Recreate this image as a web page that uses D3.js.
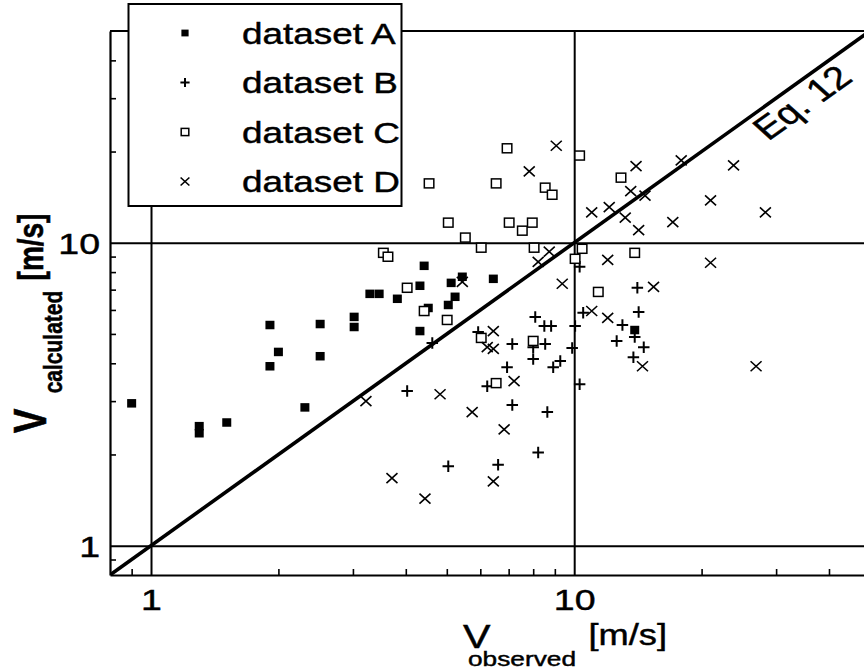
<!DOCTYPE html>
<html>
<head>
<meta charset="utf-8">
<script src="https://cdn.jsdelivr.net/npm/d3@7"></script>
<style>
  body { margin: 0; background: #fff; }
  svg { display: block; font-family: "Liberation Sans", Arial, sans-serif; }
  svg text { fill: #000; stroke: #000; stroke-width: 0.45px; }
</style>
</head>
<body>
<svg id="chart" width="864" height="670"></svg>
<script>
// [V observed, V calculated] in m/s
const datasetA = [
  [0.90, 2.95], [1.30, 2.48], [1.30, 2.35], [1.51, 2.55], [1.91, 5.35], [1.91, 3.91],
  [2.00, 4.36], [2.31, 2.86], [2.51, 5.39], [2.51, 4.22], [3.02, 5.69], [3.02, 5.27],
  [3.29, 6.78], [3.46, 6.78], [3.82, 6.53], [4.42, 8.39], [4.32, 7.21], [4.52, 6.09],
  [4.32, 5.11], [5.12, 7.37], [5.23, 6.63], [5.04, 6.23], [5.44, 7.72], [6.44, 7.60],
  [13.9, 5.15]
];
const datasetB = [
  [10.3, 8.33], [14.1, 7.10], [8.09, 5.69], [8.50, 5.31], [8.82, 5.31], [10.05, 5.31],
  [10.5, 5.87], [14.2, 5.91], [13.0, 5.35], [5.93, 5.07], [4.62, 4.67], [7.14, 4.63],
  [8.00, 4.52], [8.54, 4.63], [9.89, 4.49], [12.6, 4.74], [13.9, 4.88], [14.6, 4.52],
  [13.8, 4.19], [8.00, 4.13], [6.94, 3.88], [9.27, 4.07], [8.92, 3.88], [10.3, 3.41],
  [6.23, 3.36], [4.03, 3.24], [7.14, 2.91], [8.64, 2.76], [8.22, 2.03], [5.04, 1.83],
  [6.61, 1.85]
];
const datasetC = [
  [3.54, 9.26], [3.63, 8.99], [4.03, 7.10], [4.42, 5.95], [5.01, 5.56], [6.03, 9.63],
  [5.53, 10.4], [5.04, 11.65], [4.54, 15.7], [6.54, 15.7], [6.94, 20.5], [7.02, 11.65],
  [7.96, 11.65], [7.54, 10.96], [8.54, 15.2], [8.87, 14.4], [10.3, 19.4], [8.04, 9.63],
  [10.44, 9.55], [10.05, 8.85], [12.9, 16.4], [13.9, 9.26], [11.4, 6.88], [6.03, 4.85],
  [8.00, 4.74], [6.54, 3.44]
];
const datasetD = [
  [3.22, 3.00], [3.71, 1.67], [4.44, 1.43], [4.82, 3.16], [5.74, 2.76], [6.83, 2.42],
  [6.44, 1.63], [7.21, 3.49], [6.44, 5.11], [6.23, 4.52], [6.44, 4.46], [5.44, 7.43],
  [8.73, 9.34], [8.22, 8.65], [9.37, 7.32], [12.0, 8.78], [15.4, 7.15], [11.0, 5.95],
  [12.0, 5.65], [14.5, 3.91], [9.07, 20.9], [7.83, 17.2], [11.0, 12.6], [14.0, 17.9],
  [17.9, 18.7], [23.8, 18.0], [13.6, 14.8], [14.7, 14.3], [12.1, 13.1], [13.2, 12.1],
  [21.0, 13.8], [28.3, 12.6], [17.1, 11.7], [14.2, 11.0], [21.0, 8.59], [26.9, 3.91]
];
const legendLabels = ['dataset A', 'dataset B', 'dataset C', 'dataset D'];
const majorTicks = [1, 10];
const minorTicks = [0.9, 2, 3, 4, 5, 6, 7, 8, 9, 20, 30, 40];
const axisDomain = [0.8, 50];
const lineLabel = 'Eq. 12';

const SX = 1.25; // the scan is stretched sideways, text follows it
const svg = d3.select('#chart');
const width = 864;
const padLeft = 110, padRight = 870, padTop = 31, padBottom = 575;

const x = d3.scaleLog().domain(axisDomain).range([padLeft, padRight]);
const y = d3.scaleLog().domain(axisDomain).range([padBottom, padTop]);

svg.append('defs').append('clipPath').attr('id', 'plot')
  .append('rect').attr('x', padLeft).attr('y', padTop)
  .attr('width', padRight - padLeft).attr('height', padBottom - padTop);

// marker shapes
function square(g, w, h) {
  return g.append('rect').attr('x', -w / 2).attr('y', -h / 2).attr('width', w).attr('height', h);
}
function plus(g, w, h) {
  return g.append('path').attr('d', `M${-w / 2},0H${w / 2}M0,${-h / 2}V${h / 2}`);
}
function cross(g, w, h) {
  return g.append('path').attr('d', `M${-w / 2},${-h / 2}L${w / 2},${h / 2}M${-w / 2},${h / 2}L${w / 2},${-h / 2}`);
}
const markers = [
  (g, k) => square(g, 9 * k, 8.5 * k).attr('fill', '#000'),
  (g, k) => plus(g, 11.5 * k, 11.5 * k).attr('stroke', '#000').attr('stroke-width', 2),
  (g, k) => square(g, 9.5 * k, 9 * k).attr('fill', '#fff').attr('stroke', '#000').attr('stroke-width', 1.5),
  (g, k) => cross(g, 11 * k, 10 * k).attr('stroke', '#000').attr('stroke-width', 1.6),
];

// grid lines at the decades, with labels
const xMajor = svg.append('g')
  .attr('transform', `translate(0,${padBottom})`)
  .call(d3.axisBottom(x).tickValues(majorTicks).tickSize(-(padBottom - padTop))
    .tickSizeOuter(0).tickPadding(14).tickFormat(d3.format('d')));
const yMajor = svg.append('g')
  .attr('transform', `translate(${padLeft},0)`)
  .call(d3.axisLeft(y).tickValues(majorTicks).tickSize(-(padRight - padLeft))
    .tickSizeOuter(0).tickPadding(8).tickFormat(d3.format('d')));
[xMajor, yMajor].forEach((a) => {
  a.attr('font-family', null).attr('font-size', 30);
  a.selectAll('.tick line').attr('stroke-width', 2);
  a.selectAll('.tick text').attr('transform', `scale(${SX},1)`);
  a.select('.domain').remove();
});
yMajor.selectAll('.tick text').attr('dy', '0.36em');

// minor ticks pointing inward
svg.append('g')
  .attr('transform', `translate(0,${padBottom})`)
  .call(d3.axisBottom(x).tickValues(minorTicks).tickSize(-6).tickSizeOuter(0).tickFormat(''))
  .call((a) => a.selectAll('line').attr('stroke-width', 1.6))
  .select('.domain').attr('stroke-width', 2.2);
svg.append('g')
  .attr('transform', `translate(${padLeft},0)`)
  .call(d3.axisLeft(y).tickValues(minorTicks).tickSize(-6).tickSizeOuter(0).tickFormat(''))
  .call((a) => a.selectAll('line').attr('stroke-width', 1.6))
  .select('.domain').attr('stroke-width', 2.2);
svg.append('line')
  .attr('x1', padLeft).attr('x2', width).attr('y1', y(axisDomain[1])).attr('y2', y(axisDomain[1]))
  .attr('stroke', '#000').attr('stroke-width', 2);

// Eq. 12: the 1:1 line
const plot = svg.append('g').attr('clip-path', 'url(#plot)');
plot.append('line')
  .attr('x1', x(axisDomain[0])).attr('y1', y(axisDomain[0]))
  .attr('x2', x(axisDomain[1])).attr('y2', y(axisDomain[1]))
  .attr('stroke', '#000').attr('stroke-width', 3.6);

const slope = (y(1) - y(10)) / (x(10) - x(1));
const angle = Math.atan(slope * SX) * 180 / Math.PI;
svg.append('text')
  .attr('transform', `translate(${x(25.3)},${y(25.3)}) scale(${SX},1) rotate(${-angle})`)
  .attr('dy', 28).attr('font-size', 32).text(lineLabel);

// points
[datasetA, datasetB, datasetC, datasetD].forEach((data, i) => {
  plot.append('g').selectAll('g').data(data).join('g')
    .attr('transform', (d) => `translate(${x(d[0])},${y(d[1])})`)
    .each(function () { markers[i](d3.select(this), 1); });
});

// legend
const legend = svg.append('g');
legend.append('rect')
  .attr('x', 128.5).attr('y', 4).attr('width', 273).attr('height', 202)
  .attr('fill', '#fff').attr('stroke', '#000').attr('stroke-width', 2);
legendLabels.forEach((label, i) => {
  const row = legend.append('g').attr('transform', `translate(185,${33 + i * 49.5})`);
  markers[i](row, 0.8);
  row.append('text').attr('transform', `translate(57,10.5) scale(${SX},1)`)
    .attr('font-size', 29.5).text(label);
});

// axis titles
const xTitle = svg.append('text').attr('transform', `translate(463,648) scale(${SX},1)`);
xTitle.append('tspan').attr('font-size', 33).text('V');
xTitle.append('tspan').attr('font-size', 21).attr('dx', -18).attr('dy', 18).text('observed');
xTitle.append('tspan').attr('font-size', 29).attr('dx', 10).attr('dy', -21).text('[m/s]');

function title(txt, tx, ty, size) {
  svg.append('text')
    .attr('transform', `translate(${tx},${ty}) scale(${SX},1) rotate(-90)`)
    .attr('text-anchor', 'middle').attr('font-size', size).attr('font-weight', 'bold')
    .text(txt);
}
title('V', 46, 421, 37);
title('calculated', 62, 342, 21);
title('[m/s]', 43, 247, 28);
</script>
</body>
</html>
